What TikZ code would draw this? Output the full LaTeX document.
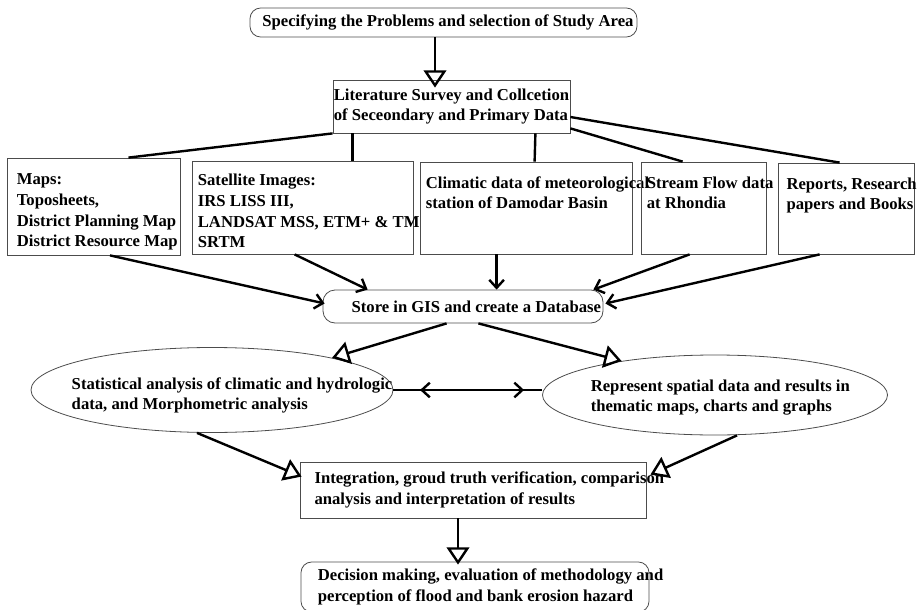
\documentclass[tikz,border=0pt]{standalone}
\usepackage{fontspec}
\setmainfont{Liberation Serif}
\usetikzlibrary{arrows.meta,shapes.geometric,calc,decorations.markings}

\tikzset{
  box/.style={draw=black!70, line width=0.6pt, inner sep=0pt},
  roundbox/.style={box, rounded corners=8pt},
  oval/.style={box, ellipse},
  srctext/.style={anchor=north west, align=left, inner xsep=4.5pt, inner ysep=11pt},
  link/.style={line width=1.8pt},
  barb/.style={link, -{Straight Barb[length=6pt,width=11pt]}},
  hollow/.style={link, -{Triangle[open,length=13pt,width=17pt]}},
}

\begin{document}
\begin{tikzpicture}[x=0.75pt,y=0.75pt,yscale=-1,xscale=1, font=\fontsize{12.5}{15.5}\selectfont\bfseries]
\useasboundingbox (0,0) rectangle (917,610);
\clip (0,0) rectangle (917,610);

%Shape: Rounded Rectangle
\node[roundbox, minimum width=290.25pt, minimum height=21.75pt, text width=285pt, align=flush right] (problem) at (443.5,22.5) {Specifying the Problems and selection of Study Area};
%Shape: Rectangle
\node[box, minimum width=177.75pt, minimum height=39.75pt, align=left] (survey) at (451.5,106.5) {Literature Survey and Collcetion\\of Seceondary and Primary Data};

%Shape: Rectangle
\node[box, minimum width=129.75pt, minimum height=72.75pt, label={[srctext, inner xsep=7.5pt, inner ysep=12pt]north west:{Maps:\\Toposheets,\\District Planning Map\\District Resource Map}}] (maps) at (93.5,206.5) {};
%Shape: Rectangle
\node[box, minimum width=165.75pt, minimum height=69.75pt, label={[srctext, inner ysep=10pt]north west:{Satellite Images:\\IRS LISS III,\\LANDSAT MSS, ETM+ \& TM\\SRTM}}] (sat) at (302.5,207.5) {};
%Shape: Rectangle
\node[box, minimum width=159pt, minimum height=69pt, label={[srctext]north west:{Climatic data of meteorological\\station of Damodar Basin}}] (clim) at (526,208) {};
%Shape: Rectangle
\node[box, minimum width=93.75pt, minimum height=69pt, label={[srctext]north west:{Stream Flow data\\at Rhondia}}] (stream) at (703.5,208) {};
%Shape: Rectangle
\node[box, minimum width=102pt, minimum height=68.25pt, label={[srctext, inner xsep=6.5pt]north west:{Reports, Research\\papers and Books}}] (reports) at (846,208.5) {};

%Shape: Rounded Rectangle
\node[roundbox, rounded corners=9pt, minimum width=210pt, minimum height=24.75pt, text width=207pt, align=flush right] (store) at (463,306.5) {Store in GIS and create a Database};

%Shape: Ellipse
\node[oval, minimum width=271.5pt, minimum height=63.75pt, label={[align=left, xshift=15pt, yshift=-4pt]center:{Statistical analysis of climatic and hydrologic\\data, and Morphometric analysis}}] (stat) at (212,390) {};
%Shape: Ellipse
\node[oval, minimum width=258.75pt, minimum height=60pt, label={[align=left, xshift=4pt, yshift=-2pt]center:{Represent spatial data and results in\\thematic maps, charts and graphs}}] (repr) at (715,395) {};

%Shape: Rectangle
\node[box, minimum width=259.5pt, minimum height=42pt, label={[anchor=west, align=left, inner xsep=11pt]west:{Integration, groud truth verification, comparison\\analysis and interpretation of results}}] (integ) at (473,490) {};
%Shape: Rounded Rectangle
\node[roundbox, minimum width=261pt, minimum height=37.5pt, label={[anchor=west, align=left, inner xsep=12.75pt]west:{Decision making, evaluation of methodology and\\perception of flood and bank erosion hazard}}] (decision) at (475,587) {};

%Straight Lines
\draw[hollow] ($(problem.south)+(-8.5,0)$) -- ($(survey.north)+(-16.5,8)$);

%Straight Lines
\draw[link] (survey.south west) -- ($(maps.north)+(35,0)$);
\draw[link] ($(survey.south west)+(20,0)$) -- ($(sat.north west)+(161,0)$);
\draw[link] ($(survey.south east)+(-35,0)$) -- ($(clim.north west)+(115,0)$);
\draw[link] ($(survey.south east)+(0,-5)$) -- ($(stream.north west)+(42,0)$);
\draw[link] ($(survey.east)+(0,10.5)$) -- ($(reports.north west)+(62,0)$);

%Straight Lines
\draw[barb] ($(maps.south)+(16.5,0)$) -- ($(store.west)+(2,-3)$);
\draw[barb] ($(sat.south west)+(103,0)$) -- ($(store.north west)+(45,0)$);
\draw[barb] ($(clim.south west)+(77,0)$) -- ($(store.north west)+(174,0)$);
\draw[barb] ($(stream.south west)+(49,0)$) -- ($(store.north east)+(-10,0)$);
\draw[barb] ($(reports.south west)+(42,0)$) -- ($(store.east)+(2,-3)$);

%Straight Lines
\draw[hollow] ($(store.south west)+(124,0)$) -- (stat.15);
\draw[hollow] ($(store.south east)+(-125,0)$) -- (repr.160);

%Straight Lines
\draw[link, postaction={decorate}, decoration={markings,
    mark=at position 20pt with {\arrowreversed{Straight Barb[length=6pt,width=11pt]}},
    mark=at position -13.5pt with {\arrow{Straight Barb[length=6pt,width=11pt]}}}]
  (stat.east) -- (stat.east -| repr.west);

%Straight Lines
\draw[hollow] ($(stat.south)+(-15,0)$) -- ($(integ.north west)+(2,15)$);
\draw[hollow] ($(repr.south)+(22,0)$) -- ($(integ.north east)+(4,13)$);
\draw[hollow] ($(integ.south)+(-15,0)$) -- ($(decision.north)+(-17,3)$);

\end{tikzpicture}
\end{document}
